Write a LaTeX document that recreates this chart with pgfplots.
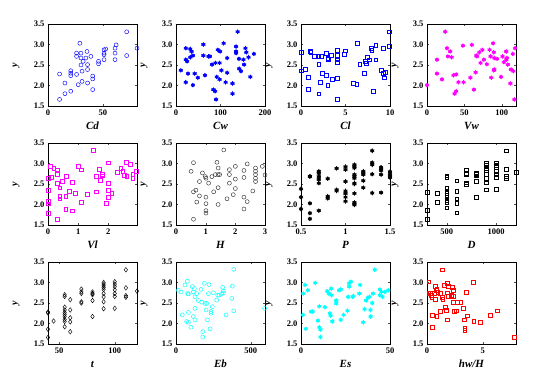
\documentclass[border=0pt]{standalone}
\usepackage{pgfplots}
\pgfplotsset{compat=1.18}
\usepackage{fontspec}
\setmainfont{Liberation Serif}
\definecolor{mblue}{rgb}{0,0,1}
\definecolor{mmag}{rgb}{1,0,1}
\definecolor{mcyan}{rgb}{0,1,1}
\definecolor{mred}{rgb}{1,0,0}

% filled star-like marker (round core with six spokes)
\pgfdeclareplotmark{blob}{%
  \pgfpathcircle{\pgfpointorigin}{0.72\pgfplotmarksize}%
  \pgfusepathqfillstroke
  \pgfpathmoveto{\pgfqpoint{0pt}{\pgfplotmarksize}}%
  \pgfpathlineto{\pgfqpoint{0pt}{-\pgfplotmarksize}}%
  \pgfpathmoveto{\pgfqpointpolar{30}{\pgfplotmarksize}}%
  \pgfpathlineto{\pgfqpointpolar{210}{\pgfplotmarksize}}%
  \pgfpathmoveto{\pgfqpointpolar{150}{\pgfplotmarksize}}%
  \pgfpathlineto{\pgfqpointpolar{330}{\pgfplotmarksize}}%
  \pgfusepathqstroke
}

\pgfplotsset{
  panel/.style={
    scale only axis, width=89pt, height=82pt, anchor=north west,
    ymin=1.5, ymax=3.5, ytick={1.5,2,2.5,3,3.5},
    yticklabel style={/pgf/number format/.cd, fixed, fixed zerofill, precision=1},
    /pgf/number format/assume math mode=true,
    /pgf/number format/1000 sep={},
    scaled ticks=false,
    tick label style={font=\fontsize{8.5}{8.5}\selectfont\bfseries},
    xlabel style={at={(axis description cs:0.5,-0.29)}, anchor=base,
      font=\fontsize{11}{11}\selectfont\bfseries\itshape},
    tick align=inside, major tick length=2pt,
    tick style={black!70},
    clip=false,
    extra description/.code={
      \node[rotate=90, anchor=south, font=\fontsize{10}{10}\selectfont\bfseries\itshape]
        at (axis description cs:-0.28,0.5) {y};
    },
  },
  pring/.style={only marks, mark=o, mark size=2pt, line width=0.45pt},
  pbox/.style={only marks, mark=square, mark size=1.9pt, line width=0.45pt},
  pblob/.style={only marks, mark=blob, mark size=2.3pt, line width=0.6pt},
}

\begin{document}
\begin{tikzpicture}
\useasboundingbox (0,0) rectangle (538pt,-379pt);

% ---------- row 1
\begin{axis}[panel, at={(48pt,-24pt)}, xmin=0, xmax=81, xtick={0,50}, xlabel={Cd}]
\addplot[mblue, pring] coordinates {
(10.5,1.66) (10.5,2.28) (15.4,2.06) (15.4,1.80) (20.7,2.36) (20.7,2.30) (20.7,2.24)
(20.7,1.86) (26,2.27) (26,2.71) (26,2.79) (29,3.03) (30,2.79) (30,2.67) (30,2.50)
(31,2.35) (31,2.10) (27.5,2.02) (32,2.59) (34.5,2.67) (35.5,2.83) (36,2.51) (36,2.39)
(36,2.06) (39,2.71) (40.7,2.23) (40.7,2.16) (40.7,1.90) (46,2.59) (46,2.53)
(51,2.87) (51,2.79) (51,2.75) (51,2.63) (52.5,2.89) (61,2.91) (62,2.99) (61,2.79)
(61,2.63) (71.6,3.31) (71.6,2.73) (81,2.91)
};
\end{axis}

\begin{axis}[panel, at={(176pt,-24pt)}, xmin=0, xmax=200, xtick={0,100,200}, xlabel={Cw}]
\addplot[mblue, pblob] coordinates {
(10.8,2.37) (22,2.91) (22,2.63) (25,2.59) (22,2.08) (27,2.29) (32,2.89) (35,2.83)
(32,2.69) (38,2.73) (38,2.01) (42,2.29) (49,2.19) (61.5,3.00) (61.5,2.73) (65,2.25)
(73,2.71) (76,2.71) (81,2.51) (84,1.90) (88,1.86) (88.5,2.55) (90,1.66) (91.5,2.21)
(94,2.87) (99,2.83) (98,2.55) (98,2.15) (102,2.37) (107,3.03) (111.5,2.08) (115,2.67)
(115,2.31) (127,1.80) (127,2.05) (135,2.95) (135,2.83) (135,2.79) (138.5,3.31)
(141.5,2.65) (142,2.41) (146,2.35) (151.5,2.63) (153,2.51) (156,2.91) (158,2.81)
(163,2.69) (167,2.21) (175,2.77)
};
\end{axis}

\begin{axis}[panel, at={(301pt,-24pt)}, xmin=0, xmax=10, xtick={0,5,10}, xlabel={Cl}]
\addplot[mblue, pbox] coordinates {
(0,2.81) (0,2.36) (0.5,2.40) (0.8,2.21) (0.8,1.90) (1.0,2.83) (1.1,2.81) (1.5,2.71)
(2.0,2.71) (2.3,2.71) (2.0,2.51) (2.0,1.80) (2.2,2.08) (2.4,2.29) (2.8,2.79) (2.8,2.25)
(3.0,2.67) (3.1,2.65) (3.0,2.01) (3.4,2.73) (3.5,2.15) (4.05,2.87) (4.05,2.73)
(4.05,2.63) (4.05,2.56) (4.05,2.18) (4.1,1.66) (5.0,2.85) (4.9,2.77) (5.9,2.06)
(6.25,2.04) (6.3,3.03) (6.6,2.51) (7.1,2.29) (7.2,2.59) (7.35,2.55) (7.45,2.69)
(7.65,2.63) (7.85,2.91) (7.95,2.87) (8.1,1.86) (8.4,2.99) (8.4,2.63) (9.0,2.37)
(9.2,2.29) (9.2,2.91) (9.35,2.19) (9.5,2.33) (9.9,3.31) (9.9,2.95)
};
\end{axis}

\begin{axis}[panel, at={(427pt,-24pt)}, xmin=0, xmax=119, xtick={0,50,100}, xlabel={Vw}]
\addplot[mmag, pblob] coordinates {
(0,2.01) (13.3,2.63) (13.3,2.29) (20,2.15) (24.4,3.31) (26.7,2.91) (28,2.71) (31,2.83)
(33,2.69) (35.5,2.25) (36.9,1.80) (39,1.86) (39,2.27) (42,2.08) (48,2.97) (48.9,2.08)
(58,2.19) (60,2.99) (62.7,1.90) (65,2.32) (66,2.73) (66.7,2.71) (70,2.81) (71.6,2.55)
(74,2.87) (76,2.63) (80,2.52) (83.6,2.87) (85,2.71) (86,2.19) (88.4,3.03) (89.3,2.81)
(89.3,2.37) (90,2.39) (90,2.67) (93.8,2.65) (99,2.21) (101,2.71) (102.7,2.57)
(106,2.83) (106,2.63) (107,2.67) (108,2.51) (111.5,2.05) (112.4,2.39) (114.7,2.77)
(115.5,2.35) (116.9,1.66) (117.8,2.91)
};
\end{axis}

% ---------- row 2
\begin{axis}[panel, at={(48pt,-143pt)}, xmin=0, xmax=2.95, xtick={0,1,2}, xlabel={Vl}]
\addplot[mmag, pbox] coordinates {
(0,2.64) (0,2.35) (0,2.08) (0,2.02) (0,1.78) (0.08,2.93) (0.11,2.66) (0.19,2.89)
(0.3,2.85) (0.3,2.74) (0.3,1.64) (0.3,2.52) (0.39,2.41) (0.39,2.21) (0.39,2.14)
(0.48,2.56) (0.59,2.21) (0.61,2.68) (0.59,1.89) (0.7,2.32) (0.8,2.54) (0.8,1.85)
(0.89,2.28) (1.0,2.93) (1.09,2.85) (1.09,2.06) (1.3,2.25) (1.5,3.33) (1.61,2.68)
(1.61,2.31) (1.7,2.87) (1.72,2.60) (1.8,2.74) (1.81,2.70) (1.92,2.03) (2.0,3.02)
(2.0,2.52) (2.0,2.35) (2.0,2.18) (2.11,2.27) (2.3,2.78) (2.41,2.89) (2.48,2.81)
(2.52,2.72) (2.59,3.03) (2.61,2.68) (2.72,2.98) (2.81,2.74) (2.81,2.64) (2.92,2.81)
};
\end{axis}

\begin{axis}[panel, at={(176pt,-143pt)}, xmin=0, xmax=3, xtick={0,1,2,3}, xlabel={H}]
\addplot[black!80, pring] coordinates {
(0.51,2.81) (0.59,3.02) (0.59,2.31) (0.59,1.64) (0.67,2.35) (0.7,2.06) (0.79,2.21)
(0.79,2.56) (0.89,2.77) (0.99,2.68) (1.01,2.64) (1.01,2.18) (1.01,2.02) (1.01,1.85)
(1.01,1.79) (1.1,2.52) (1.21,2.68) (1.27,2.31) (1.33,2.73) (1.38,3.03) (1.42,2.89)
(1.42,2.73) (1.47,2.73) (1.42,2.41) (1.42,2.00) (1.61,3.33) (1.72,2.14) (1.8,2.85)
(1.8,2.73) (1.8,2.52) (1.93,2.24) (2.0,2.93) (2.0,2.62) (2.0,2.39) (2.29,2.83)
(2.29,2.66) (2.29,2.18) (2.29,1.89) (2.4,2.99) (2.4,2.07) (2.59,2.33) (2.68,2.89)
(2.68,2.81) (2.68,2.73) (2.68,2.64) (2.68,2.56) (2.91,2.93) (3.0,2.72)
};
\end{axis}

\begin{axis}[panel, at={(301pt,-143pt)}, xmin=0.5, xmax=1.5, xtick={0.5,1,1.5}, xlabel={P}]
\addplot[black, pblob] coordinates {
(0.5,2.38) (0.5,2.18) (0.5,1.89)
(0.6,2.69) (0.6,2.68) (0.6,2.03) (0.6,1.79) (0.6,1.65)
(0.7,2.81) (0.7,2.76) (0.7,2.68) (0.7,2.61) (0.7,2.52) (0.7,1.85)
(0.8,2.63) (0.8,2.20) (0.8,2.15)
(0.9,2.88) (0.9,2.36) (0.9,2.33)
(1.0,2.92) (1.0,2.85) (1.0,2.56) (1.0,2.33) (1.0,2.27) (1.0,2.18) (1.0,2.08)
(1.1,2.97) (1.1,2.93) (1.1,2.89) (1.1,2.73) (1.1,2.68) (1.1,2.64) (1.1,2.52) (1.1,2.50)
(1.1,2.27) (1.1,2.05) (1.1,2.01) (1.1,1.99)
(1.2,2.81) (1.2,2.77) (1.2,2.73) (1.2,2.58) (1.2,2.41)
(1.3,3.31) (1.3,3.02) (1.3,2.97) (1.3,2.74) (1.3,2.28)
(1.4,2.91) (1.4,2.87) (1.4,2.83) (1.4,2.73) (1.4,2.29)
(1.5,2.80) (1.5,2.74) (1.5,2.70) (1.5,2.66)
};
\end{axis}

\begin{axis}[panel, at={(427pt,-143pt)}, xmin=300, xmax=1200, xtick={500,1000}, xlabel={D}]
\addplot[black, pbox] coordinates {
(300,2.29) (300,1.86) (300,1.65)
(400,2.27) (400,2.06)
(500,2.70) (500,2.66) (500,2.39) (500,2.33) (500,2.27) (500,2.22) (500,2.17) (500,2.10)
(500,2.05) (500,1.92)
(600,2.58) (600,2.33) (600,2.14) (600,2.04) (600,1.80)
(700,2.84) (700,2.77) (700,2.73) (700,2.53) (700,2.50)
(800,2.77) (800,2.73) (800,2.70) (800,2.56) (800,2.17)
(900,3.00) (900,2.96) (900,2.92) (900,2.88) (900,2.83) (900,2.73) (900,2.65) (900,2.53)
(900,2.36)
(1000,3.02) (1000,2.96) (1000,2.90) (1000,2.82) (1000,2.73) (1000,2.66) (1000,2.37)
(1100,3.31) (1100,2.87) (1100,2.68) (1100,2.64)
(1200,2.79)
};
\end{axis}

% ---------- row 3
\begin{axis}[panel, at={(48pt,-262pt)}, xmin=40, xmax=120, xtick={50,100}, xlabel={t}]
\addplot[black, only marks, mark=diamond, mark size=2.3pt, line width=0.45pt] coordinates {
(40,2.28) (40,2.26) (40,1.86) (40,1.66)
(45,2.06)
(55,2.70) (55,2.66) (55,2.40) (55,2.33) (55,2.27) (55,2.22) (55,2.17) (55,2.10)
(55,2.05) (55,1.92)
(60,2.58) (60,2.33) (60,2.14) (60,2.04) (60,1.80)
(70,2.84) (70,2.77) (70,2.73) (70,2.53) (70,2.50)
(80,2.77) (80,2.73) (80,2.70) (80,2.56) (80,2.17)
(90,3.00) (90,2.96) (90,2.92) (90,2.88) (90,2.83) (90,2.73) (90,2.65) (90,2.53) (90,2.36)
(100,3.02) (100,2.96) (100,2.90) (100,2.82) (100,2.73) (100,2.66) (100,2.37)
(110,3.31) (110,2.87) (110,2.68) (110,2.64)
(120,2.79)
};
\end{axis}

\begin{axis}[panel, at={(176pt,-262pt)}, xmin=0, xmax=595, xtick={0,500}, xlabel={Eb}]
\addplot[mcyan, pring] coordinates {
(15.6,2.81) (33.5,2.77) (42,2.21) (60,2.94) (71,2.05) (76,3.03) (78,2.73) (83,2.72)
(83,2.27) (83,2.03) (100,1.91) (109,2.90) (116,2.77) (116,2.17) (123,2.85) (127,2.37)
(127,2.09) (127,2.65) (138,2.73) (150,2.56) (167,2.83) (172,2.52) (179,1.80) (179,1.67)
(190,2.98) (194,2.49) (201,2.33) (205,2.49) (210,2.09) (217,2.73) (221,2.95) (228,1.87)
(234,2.29) (234,2.25) (243,2.41) (250,2.75) (272,2.57) (279,2.69) (288,2.69) (306,2.73)
(312,2.88) (317,2.80) (317,2.75) (335,2.21) (373,2.61) (377,2.91) (386,3.32) (386,2.31)
(592,2.37)
};
\end{axis}

\begin{axis}[panel, at={(301pt,-262pt)}, xmin=0, xmax=50, xtick={0,50}, xlabel={Es}]
\addplot[mcyan, pblob] coordinates {
(1.3,2.73) (2.3,2.94) (3.8,2.81) (1.0,2.21) (2.7,1.87) (5.7,2.29) (6.5,2.29) (8.0,2.99)
(9.5,2.07) (10.3,1.91) (10.9,1.85) (10.9,1.67) (10.3,2.42) (13.4,2.40) (14.7,2.79)
(15.6,2.73) (16.2,2.25) (16.6,2.19) (17,2.85) (17.2,2.69) (17.6,2.05) (19.8,2.56)
(19.8,2.49) (21.4,2.81) (22.3,2.83) (22.3,2.09) (23.9,2.21) (26.5,2.65) (26.1,2.31)
(27.1,2.98) (27.1,2.90) (28,3.02) (29,2.65) (29.4,2.67) (33.2,2.94) (32.8,2.73)
(35,2.03) (35.7,2.35) (36.6,2.56) (37.6,2.63) (38.5,2.65) (39,2.33) (39.1,2.17)
(40,2.50) (40.5,2.73) (41.4,3.31) (44.3,2.83) (44.3,2.69) (45.2,2.77) (45.8,2.65)
(47.1,2.77) (49,2.81)
};
\end{axis}

\begin{axis}[panel, at={(427pt,-262pt)}, xmin=0, xmax=8, xtick={0,5}, xlabel={hw/H}]
\addplot[mred, pbox] coordinates {
(0.15,3.02) (0.15,2.73) (0.27,2.73) (0.36,2.69) (0.42,2.65) (0.45,2.21) (0.45,1.91)
(0.67,2.73) (0.73,2.59) (0.76,2.91) (0.82,2.81) (0.88,2.85) (0.88,2.17) (0.97,2.77)
(1.18,2.73) (1.2,2.29) (1.36,3.31) (1.36,2.65) (1.42,2.59) (1.58,2.94) (1.67,2.40)
(1.73,2.33) (1.79,2.98) (1.88,2.91) (1.79,2.75) (1.79,2.09) (1.88,2.67) (2.18,2.69)
(2.27,2.88) (2.33,2.81) (2.33,2.51) (2.39,2.67) (2.42,2.29) (2.64,2.31) (2.7,2.51)
(3.03,2.51) (3.24,2.37) (3.33,2.09) (3.39,1.89) (3.39,1.83) (3.55,2.77) (3.6,2.19)
(4.15,3.00) (4.2,2.06) (4.76,2.03) (5.67,2.21) (6.33,2.31) (7.85,1.67)
};
\end{axis}
\end{tikzpicture}
\end{document}
